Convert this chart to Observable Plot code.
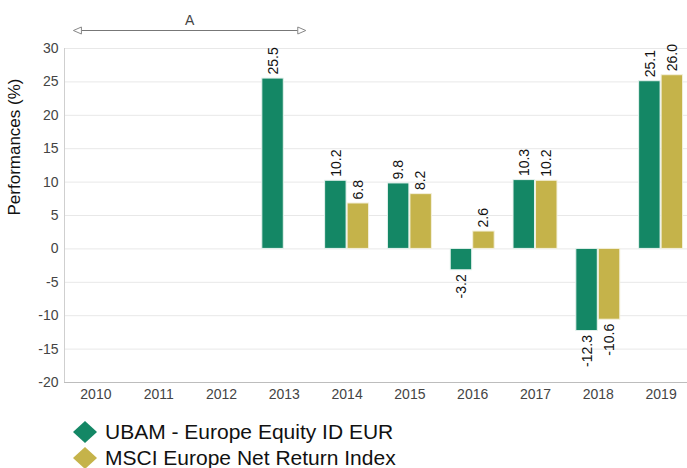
<!DOCTYPE html>
<html><head><meta charset="utf-8">
<script src="https://cdn.jsdelivr.net/npm/d3@7"></script>
<script src="https://cdn.jsdelivr.net/npm/@observablehq/plot@0.6"></script>
<style>
html,body{margin:0;padding:0;background:#fff;overflow:hidden;width:687px;}
body{font-family:"Liberation Sans",Arial,sans-serif;}
#chart{width:687px;overflow:hidden;}
#chart svg{display:block;max-width:none;}
#legend{margin-left:73px;padding-top:9px;}
.row{display:flex;align-items:center;height:26px;font-size:21px;color:#111;white-space:nowrap;}
.row svg{margin-right:8px;flex:none;}
</style></head><body><div id="chart"></div><div id="legend"></div>
<script>
const years = ["2010","2011","2012","2013","2014","2015","2016","2017","2018","2019"];
const seriesNames = ["UBAM - Europe Equity ID EUR", "MSCI Europe Net Return Index"];
const fundValues = [null, null, null, 25.5, 10.2, 9.8, -3.2, 10.3, -12.3, 25.1];
const indexValues = [null, null, null, null, 6.8, 8.2, 2.6, 10.2, -10.6, 26.0];
const colors = ["#148765", "#c5b34a"];
const yTicks = [-20, -15, -10, -5, 0, 5, 10, 15, 20, 25, 30];
const yLabel = "Performances (%)";
const annotationLabel = "A";
const annotationFrom = "2010";
const annotationTo = "2013";

const toRows = (vals, s) => years.map((year, i) => ({year, value: vals[i], series: s})).filter(d => d.value != null);
const fund = toRows(fundValues, seriesNames[0]);
const index = toRows(indexValues, seriesNames[1]);

const font = "Liberation Sans, Arial, sans-serif";

const annotate = (idx, scales, values, dims) => {
  const x = scales.x;
  const bw = x.bandwidth ? x.bandwidth() : 44;
  const x1 = x(annotationFrom), x2 = x(annotationTo) + bw;
  const yl = dims.marginTop - 17.5;
  const g = d3.create("svg:g");
  g.append("line").attr("x1", x1 + 8).attr("x2", x2 - 8).attr("y1", yl).attr("y2", yl)
    .attr("stroke", "#777").attr("stroke-width", 1);
  g.append("path").attr("d", `M${x1},${yl}L${x1 + 8},${yl - 3.5}L${x1 + 8},${yl + 3.5}Z`)
    .attr("fill", "white").attr("stroke", "#888");
  g.append("path").attr("d", `M${x2},${yl}L${x2 - 8},${yl - 3.5}L${x2 - 8},${yl + 3.5}Z`)
    .attr("fill", "white").attr("stroke", "#888");
  g.append("text").attr("x", (x1 + x2) / 2).attr("y", yl - 6)
    .attr("text-anchor", "middle").attr("fill", "#444").attr("font-size", 14)
    .attr("font-family", font).text(annotationLabel);
  g.append("line").attr("x1", dims.marginLeft + 0.5).attr("x2", dims.marginLeft + 0.5)
    .attr("y1", dims.marginTop).attr("y2", dims.height - dims.marginBottom)
    .attr("stroke", "#cfcfcf");
  return g.node();
};

const chart = Plot.plot({
  width: 692,
  height: 410,
  marginLeft: 64,
  marginRight: 0,
  marginTop: 48,
  marginBottom: 28,
  style: {fontFamily: font, fontSize: "14px", background: "white"},
  x: {domain: years, paddingInner: 0.3, paddingOuter: 0.15, round: false, label: null},
  y: {domain: [-20, 30], label: null},
  marks: [
    Plot.gridY(yTicks, {stroke: "#e8e8e8", strokeOpacity: 1}),
    Plot.ruleY([-20], {stroke: "#bdbdbd"}),
    Plot.barY(fund, {x: "year", y: "value", fill: colors[0], stroke: "#e6f2ee", strokeWidth: 1, insetRight: 22.5}),
    Plot.barY(index, {x: "year", y: "value", fill: colors[1], stroke: "#f4f0dc", strokeWidth: 1, insetLeft: 22.5}),
    Plot.text(fund, {filter: d => d.value >= 0, x: "year", y: "value", text: d => d.value.toFixed(1), rotate: -90, textAnchor: "start", dx: -11, dy: -4, fill: "#111", fontSize: 14}),
    Plot.text(fund, {filter: d => d.value < 0, x: "year", y: "value", text: d => d.value.toFixed(1), rotate: -90, textAnchor: "end", dx: -11, dy: 4, fill: "#111", fontSize: 14}),
    Plot.text(index, {filter: d => d.value >= 0, x: "year", y: "value", text: d => d.value.toFixed(1), rotate: -90, textAnchor: "start", dx: 11, dy: -4, fill: "#111", fontSize: 14}),
    Plot.text(index, {filter: d => d.value < 0, x: "year", y: "value", text: d => d.value.toFixed(1), rotate: -90, textAnchor: "end", dx: 11, dy: 4, fill: "#111", fontSize: 14}),
    Plot.axisX({tickSize: 0, tickPadding: 7, fill: "#444", fontSize: 14, label: null}),
    Plot.axisY({ticks: yTicks, tickFormat: d => String(d), tickSize: 0, tickPadding: 6, fill: "#444", fontSize: 14, label: null}),
    Plot.text([yLabel], {frameAnchor: "left", dx: -50, rotate: -90, fontSize: 17, fill: "#111"}),
    annotate
  ]
});
document.getElementById("chart").appendChild(chart);

const legend = document.getElementById("legend");
seriesNames.forEach((name, i) => {
  const row = document.createElement("div");
  row.className = "row";
  row.innerHTML = `<svg width="24" height="22"><polygon points="12,0 24,11 12,22 0,11" fill="${colors[i]}"/></svg><span>${name}</span>`;
  legend.appendChild(row);
});
</script></body></html>
